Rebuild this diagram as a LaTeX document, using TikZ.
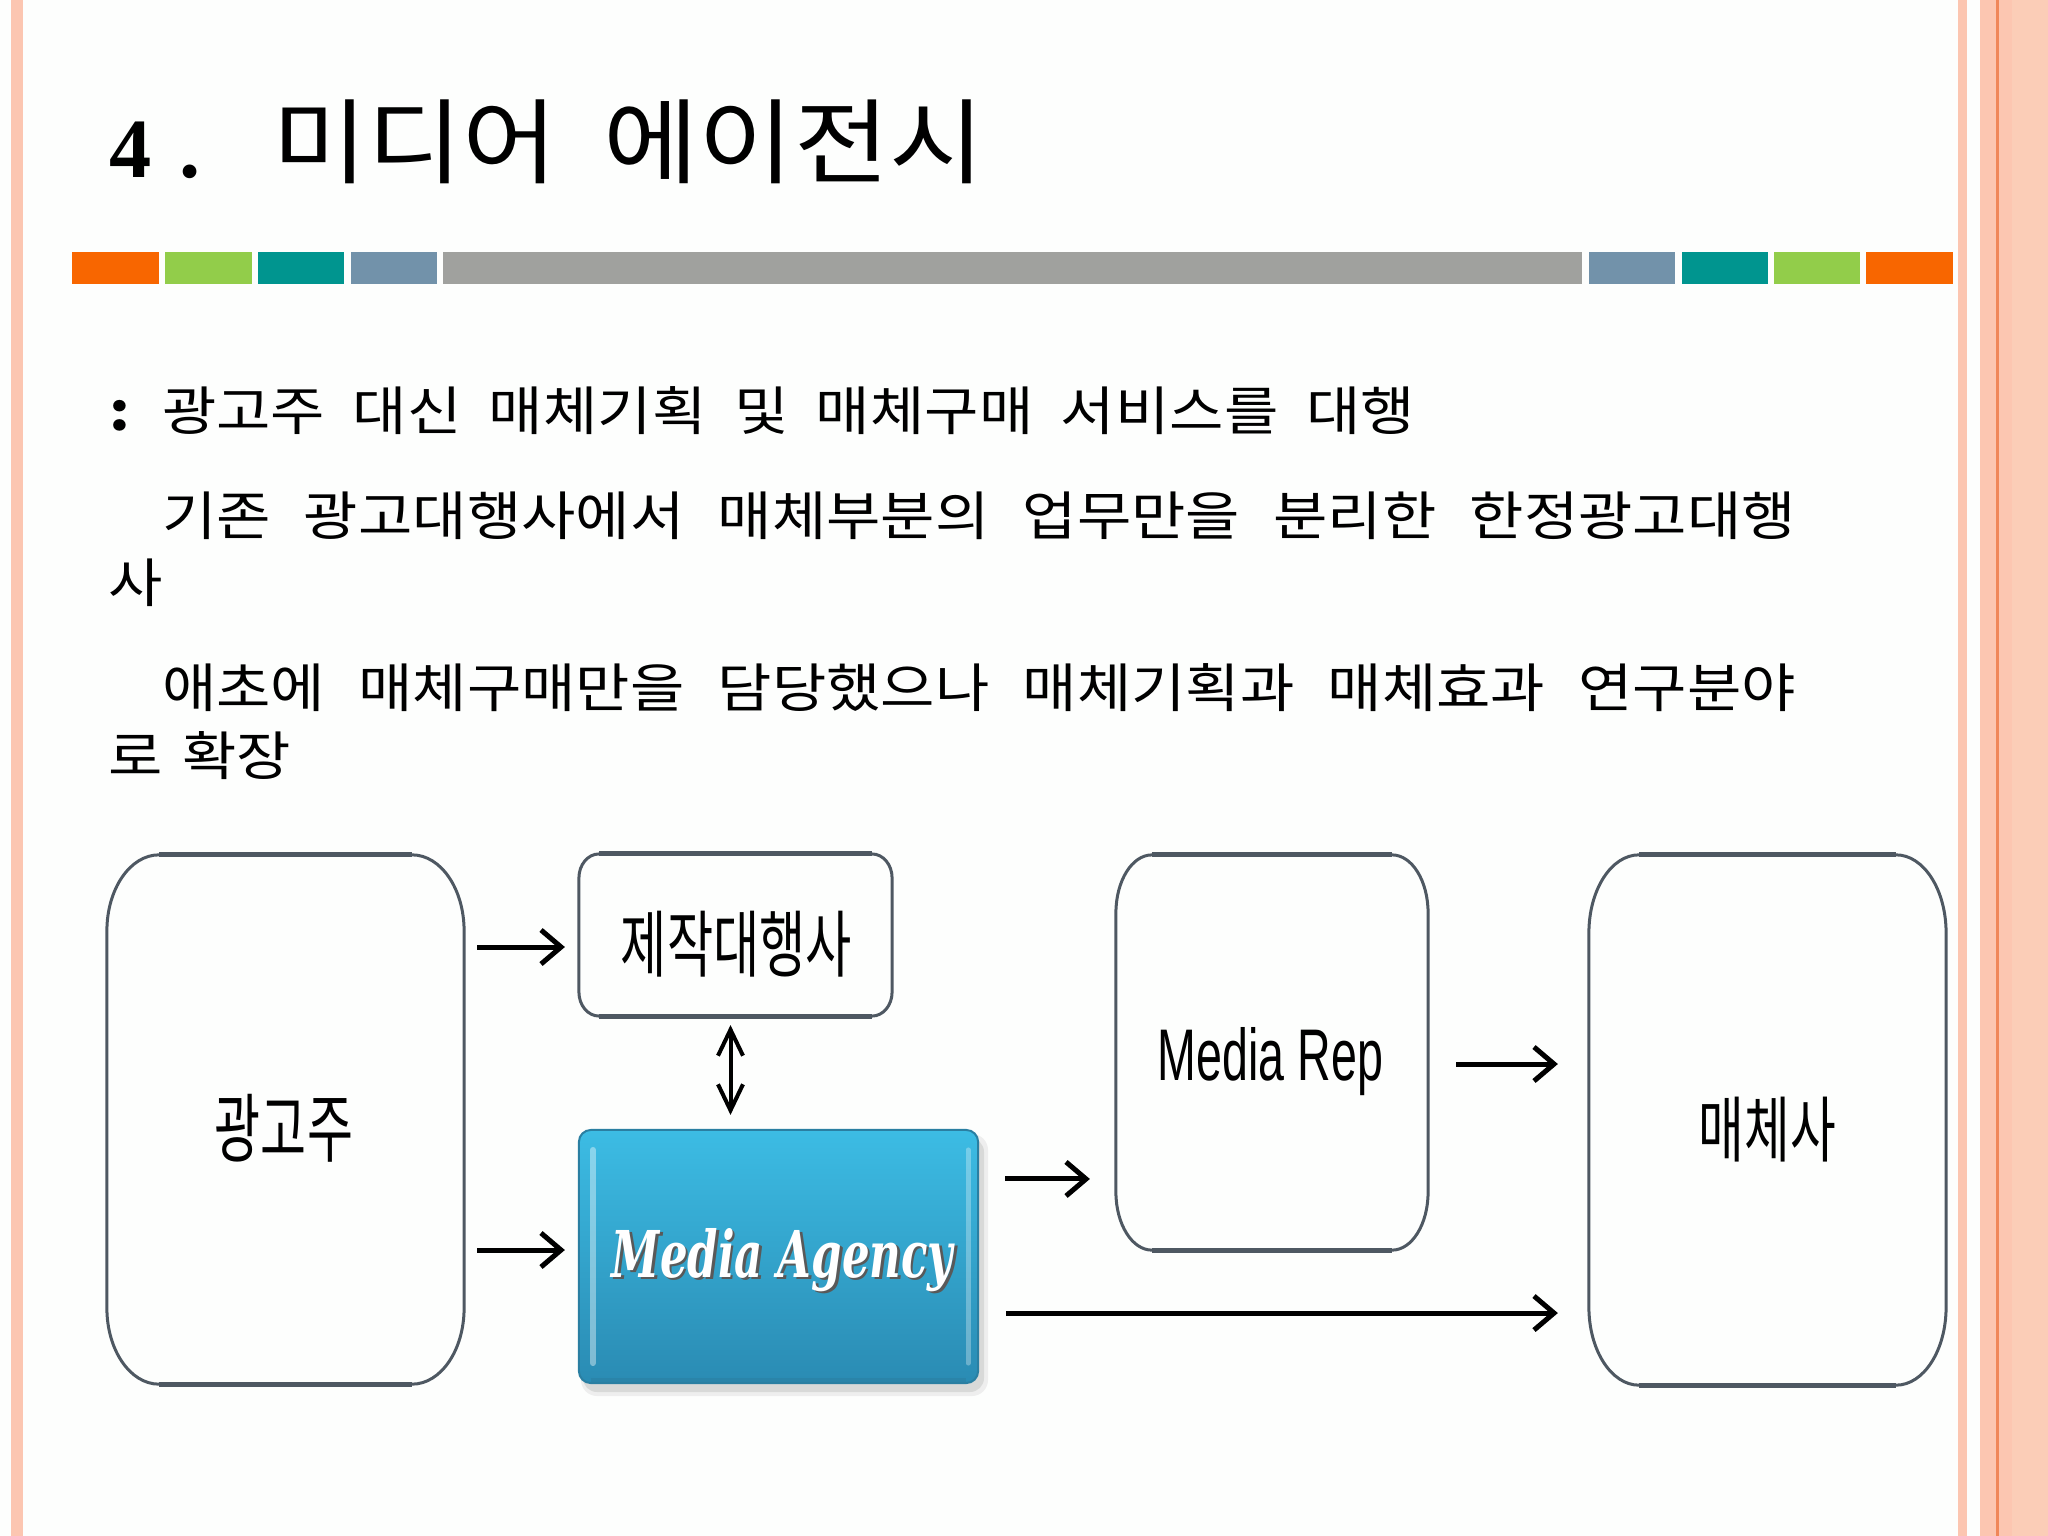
\documentclass[tikz,border=0pt]{standalone}
\usepackage{fontspec}
\usepackage{graphicx}
\usetikzlibrary{arrows.meta}
\newfontfamily\kr{Noto Sans CJK KR}
\newfontfamily\krbody[FakeStretch=1.12]{Noto Sans CJK KR}
\newfontfamily\serifb{Liberation Serif}
\newfontfamily\lsans{Liberation Sans}
\newfontfamily\dvs{DejaVu Serif}
\definecolor{salmon}{HTML}{FCC6B1}
\definecolor{salmonB}{HTML}{FBCDB7}
\definecolor{salline}{HTML}{F0875A}
\definecolor{pagebg}{HTML}{FDFEFD}
\definecolor{cOrange}{HTML}{F86600}
\definecolor{cGreen}{HTML}{92CD4A}
\definecolor{cTeal}{HTML}{00958F}
\definecolor{cBlue}{HTML}{7292AA}
\definecolor{cGray}{HTML}{A0A19E}
\definecolor{boxgray}{HTML}{4E5862}
\definecolor{maTop}{HTML}{3CBCE4}
\definecolor{maBot}{HTML}{2A8BB3}
\definecolor{maEdge}{HTML}{2A7FA2}
\newcommand\ovalframe[3]{%
  \draw[boxline] ([xshift=#2]#1.north west) -- ([xshift=-#2]#1.north east)
    arc[start angle=90, end angle=0, x radius=#2, y radius=#3]
    -- ([yshift=#3]#1.south east)
    arc[start angle=0, end angle=-90, x radius=#2, y radius=#3]
    -- ([xshift=#2]#1.south west)
    arc[start angle=270, end angle=180, x radius=#2, y radius=#3]
    -- ([yshift=-#3]#1.north west)
    arc[start angle=180, end angle=90, x radius=#2, y radius=#3] -- cycle;
  \draw[boxline, line width=0.05cm] ([xshift=#2]#1.north west) -- ([xshift=-#2]#1.north east);
  \draw[boxline, line width=0.05cm] ([xshift=#2]#1.south west) -- ([xshift=-#2]#1.south east);}
\begin{document}
\begin{tikzpicture}[x=0.01cm, y=-0.01cm,
  boxline/.style={draw=boxgray, line width=0.03cm},
  slot/.style={rectangle, inner sep=0pt, outer sep=0pt},
  lbl/.style={inner sep=0pt, outer sep=0pt},
  arr/.style={line width=0.05cm, -{Straight Barb[length=0.2cm, width=0.34cm]}},
  dblarr/.style={line width=0.04cm, {Straight Barb[length=0.26cm, width=0.25cm]}-{Straight Barb[length=0.26cm, width=0.25cm]}},
  bodytext/.style={lbl, anchor=west, font=\krbody\fontsize{15pt}{18pt}\selectfont}
]
\useasboundingbox (0,0) rectangle (2048,1536);
\fill[pagebg] (0,0) rectangle (2048,1536);
% side stripes
\fill[salmon] (11,0) rectangle (23,1536);
\fill[salmon] (1958,0) rectangle (1967,1536);
\fill[salmon] (1980,0) rectangle (2012,1536);
\fill[salmonB] (2012,0) rectangle (2048,1536);
\fill[salline] (1996,0) rectangle (1998.5,1536);
% colour bar
\fill[cOrange] (72,252) rectangle (159,284);
\fill[cGreen] (165,252) rectangle (252,284);
\fill[cTeal] (258,252) rectangle (344,284);
\fill[cBlue] (351,252) rectangle (437,284);
\fill[cGray] (443,252) rectangle (1582,284);
\fill[cBlue] (1589,252) rectangle (1675,284);
\fill[cTeal] (1682,252) rectangle (1768,284);
\fill[cGreen] (1774,252) rectangle (1860,284);
\fill[cOrange] (1866,252) rectangle (1953,284);
% title
\node[lbl, anchor=base west] (tnum) at (109,177) {\serifb\bfseries\fontsize{24pt}{28pt}\selectfont 4\hspace{0.33em}.};
\node[lbl, anchor=west] (title) at (272,141.5) {\resizebox*{7.12cm}{0.84cm}{\kr 미디어\hspace{0.45em}에이전시}};
% body text
\node[bodytext] (l1) at (109,411) {\makebox[0.53cm][l]{\textbf{:}}\makebox[12.52cm][s]{광고주 대신 매체기획 및 매체구매 서비스를 대행}};
\node[bodytext] (l2) at (162,516) {\makebox[16.33cm][s]{기존 광고대행사에서 매체부분의 업무만을 분리한 한정광고대행}};
\node[bodytext] (l2b) at (108,583) {사};
\node[bodytext] (l3) at (162,688) {\makebox[16.33cm][s]{애초에 매체구매만을 담당했으나 매체기획과 매체효과 연구분야}};
\node[bodytext] (l3b) at (108,756) {로\hspace{0.38em}확장};
% boxes
\node[slot, minimum width=3.57cm, minimum height=5.29cm] (ad) at (285.5,1119.5) {};
\ovalframe{ad}{0.52cm}{0.76cm}
\node[slot, minimum width=3.13cm, minimum height=1.62cm] (prod) at (735.5,935) {};
\ovalframe{prod}{0.2cm}{0.24cm}
\node[slot, minimum width=3.12cm, minimum height=3.95cm] (rep) at (1272,1052.5) {};
\ovalframe{rep}{0.36cm}{0.58cm}
\node[slot, minimum width=3.57cm, minimum height=5.30cm] (media) at (1767.5,1120) {};
\ovalframe{media}{0.5cm}{0.78cm}
% media agency box with shadow
\fill[black!35, opacity=0.35, rounded corners=0.14cm] (583,1138) rectangle (984,1392);
\fill[black!20, opacity=0.3, rounded corners=0.16cm] (581,1134) rectangle (988,1396);
\node[slot, minimum width=3.99cm, minimum height=2.53cm, rounded corners=0.12cm,
  top color=maTop, bottom color=maBot, draw=maEdge, line width=0.02cm] (ma) at (778.5,1256.5) {};
\draw[white, opacity=0.4, line width=0.06cm, line cap=round] ([xshift=0.14cm,yshift=-0.2cm]ma.north west) -- ([xshift=0.14cm,yshift=0.2cm]ma.south west);
\draw[white, opacity=0.3, line width=0.05cm, line cap=round] ([xshift=-0.1cm,yshift=-0.2cm]ma.north east) -- ([xshift=-0.1cm,yshift=0.2cm]ma.south east);
\draw[maEdge, opacity=0.6, line width=0.04cm] ([xshift=0.12cm,yshift=0.03cm]ma.south west) -- ([xshift=-0.12cm,yshift=0.03cm]ma.south east);
% labels
\node[lbl] (adlabel) at (284,1128) {\resizebox*{1.38cm}{0.68cm}{\kr 광고주}};
\node[lbl] (prodlabel) at (736.5,944) {\resizebox*{2.31cm}{0.66cm}{\kr 제작대행사}};
\node[lbl] (medialabel) at (1767.5,1129.5) {\resizebox*{1.37cm}{0.65cm}{\kr 매체사}};
\node[lbl, anchor=base] (replabel) at (1270.5,1080) {\resizebox{2.25cm}{0.53cm}{\lsans Media Rep}};
\node[lbl, anchor=base, text=black!65] (mashadow) at (785,1279.5) {\resizebox{3.41cm}{0.49cm}{\dvs\bfseries\itshape Media Agency}};
\node[lbl, anchor=base, text=white] (malabel) at (782.5,1277) {\resizebox{3.41cm}{0.49cm}{\dvs\bfseries\itshape Media Agency}};
% connectors
\draw[arr, shorten <=0.13cm, shorten >=0.14cm] ([yshift=-0.12cm]prod.west -| ad.east) -- ([yshift=-0.12cm]prod.west);
\draw[arr, shorten <=0.13cm, shorten >=0.14cm] ([yshift=0.065cm]ma.west -| ad.east) -- ([yshift=0.065cm]ma.west);
\draw[dblarr, shorten <=0.09cm, shorten >=0.15cm] ([xshift=-0.05cm]prod.south) -- ([xshift=-0.05cm]prod.south |- ma.north);
\draw[arr, shorten <=0.27cm, shorten >=0.26cm] ([yshift=0.775cm]ma.east) -- ([yshift=0.775cm]ma.east -| rep.west);
\draw[arr, shorten <=0.28cm, shorten >=0.31cm] ([yshift=-0.115cm]rep.east) -- ([yshift=-0.115cm]rep.east -| media.west);
\draw[arr, shorten <=0.28cm, shorten >=0.31cm] ([yshift=-0.565cm]ma.east) -- ([yshift=-0.565cm]ma.east -| media.west);
\end{tikzpicture}
\end{document}
